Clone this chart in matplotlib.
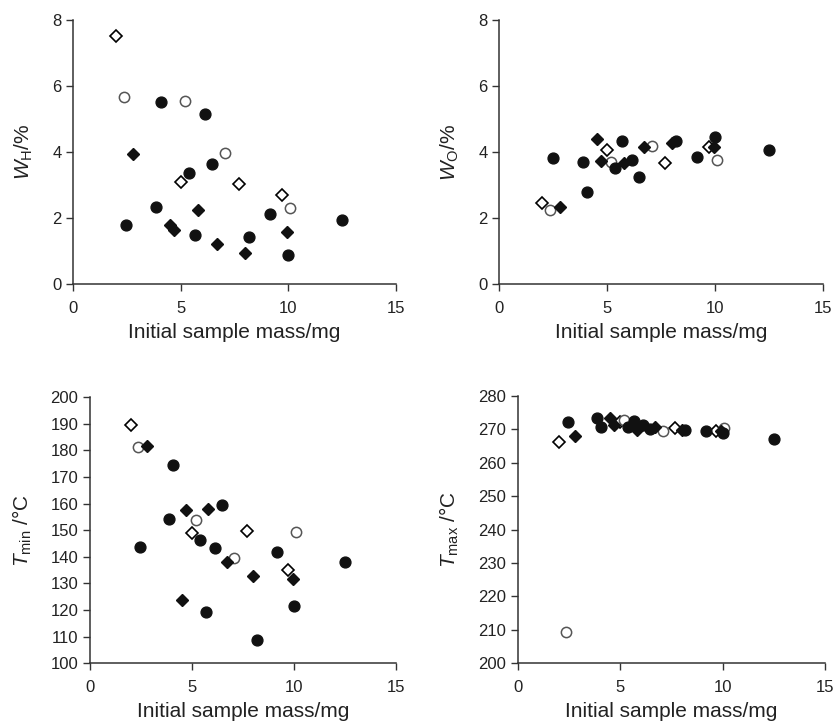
import matplotlib
matplotlib.use('Agg')
import matplotlib.pyplot as plt

plt.rcParams['font.family'] = ['Liberation Sans', 'DejaVu Sans']
plt.rcParams['mathtext.fontset'] = 'custom'
plt.rcParams['mathtext.rm'] = 'Liberation Sans'
plt.rcParams['mathtext.it'] = 'Liberation Sans:italic'

# initial sample mass / mg for each sample group
mass_open_d = [2.0, 5.0, 7.7, 9.7]
mass_open_c = [2.37, 5.18, 7.08, 10.08]
mass_fill_d = [2.8, 4.52, 4.70, 5.8, 6.7, 8.0, 9.93]
mass_fill_c = [2.47, 3.86, 4.08, 5.38, 5.67, 6.14, 6.47, 8.19, 9.17, 10.0, 12.5]

# W_H / %
wh_open_d = [7.50, 3.08, 3.04, 2.71]
wh_open_c = [5.68, 5.55, 3.97, 2.30]
wh_fill_d = [3.95, 1.78, 1.65, 2.23, 1.21, 0.94, 1.58]
wh_fill_c = [1.80, 2.33, 5.50, 3.37, 1.48, 5.16, 3.65, 1.42, 2.11, 0.89, 1.94]

# W_O / %
wo_open_d = [2.45, 4.05, 3.67, 4.15]
wo_open_c = [2.23, 3.70, 4.19, 3.75]
wo_fill_d = [2.35, 4.39, 3.73, 3.67, 4.16, 4.27, 4.16]
wo_fill_c = [3.81, 3.69, 2.78, 3.52, 4.32, 3.77, 3.24, 4.33, 3.85, 4.44, 4.06]

# T_min / C
tmin_open_d = [189.5, 149.0, 149.7, 135.0]
tmin_open_c = [181.1, 153.8, 139.4, 149.2]
tmin_fill_d = [181.6, 123.9, 157.6, 157.9, 138.2, 132.8, 131.5]
tmin_fill_c = [143.8, 154.2, 174.5, 146.4, 119.3, 143.3, 159.4, 108.7, 141.9, 121.6, 137.9]

# T_max / C
tmax_open_d = [266.2, 272.2, 270.4, 269.4]
tmax_open_c = [209.5, 272.8, 269.4, 270.4]
tmax_fill_d = [268.0, 273.4, 271.4, 269.7, 270.6, 269.8, 269.5]
tmax_fill_c = [272.2, 273.5, 270.7, 270.6, 272.4, 271.3, 270.0, 269.8, 269.5, 269.0, 267.2]

xticks = [0, 5, 10, 15]


def draw_panel(ax, ys, ylim, yticks, ylabel):
    od, oc, fd, fc = ys
    ax.plot(mass_open_d, od, 'D', ms=5.8, mfc='white', mec='black', mew=1.2, ls='none')
    ax.plot(mass_open_c, oc, 'o', ms=7.4, mfc='white', mec='#555555', mew=1.1, ls='none')
    ax.plot(mass_fill_d, fd, 'D', ms=6.0, mfc='#111111', mec='#111111', ls='none')
    ax.plot(mass_fill_c, fc, 'o', ms=7.8, mfc='#111111', mec='#111111', ls='none')
    ax.set_xlim(0, 15)
    ax.set_ylim(*ylim)
    ax.set_xticks(xticks)
    ax.set_yticks(yticks)
    for s in ['top', 'right']:
        ax.spines[s].set_visible(False)
    for s in ['left', 'bottom']:
        ax.spines[s].set_color('#333333')
        ax.spines[s].set_linewidth(1.1)
    ax.tick_params(direction='out', length=5, width=1.0, color='#333333',
                   labelsize=12, labelcolor='#222222')
    ax.tick_params(axis='x', pad=7)
    ax.set_xlabel('Initial sample mass/mg', fontsize=15, color='#222222', labelpad=5)
    ax.set_ylabel(ylabel, fontsize=15, color='#222222', labelpad=12)


fig = plt.figure(figsize=(8.35, 7.23), dpi=100)

ax1 = fig.add_axes([0.0878, 0.607, 0.386, 0.3655])
ax2 = fig.add_axes([0.598, 0.607, 0.3876, 0.3655])
ax3 = fig.add_axes([0.1078, 0.0826, 0.3665, 0.3683])
ax4 = fig.add_axes([0.620, 0.0826, 0.368, 0.3697])

draw_panel(ax1, (wh_open_d, wh_open_c, wh_fill_d, wh_fill_c), (0, 8), [0, 2, 4, 6, 8],
           r'$W_{\mathrm{H}}$/%')
draw_panel(ax2, (wo_open_d, wo_open_c, wo_fill_d, wo_fill_c), (0, 8), [0, 2, 4, 6, 8],
           r'$W_{\mathrm{O}}$/%')
draw_panel(ax3, (tmin_open_d, tmin_open_c, tmin_fill_d, tmin_fill_c), (100, 200),
           list(range(100, 201, 10)), r'$T_{\mathrm{min}}$ /°C')
draw_panel(ax4, (tmax_open_d, tmax_open_c, tmax_fill_d, tmax_fill_c), (200, 280),
           list(range(200, 281, 10)), r'$T_{\mathrm{max}}$ /°C')

fig.savefig('out.png', dpi=100)
